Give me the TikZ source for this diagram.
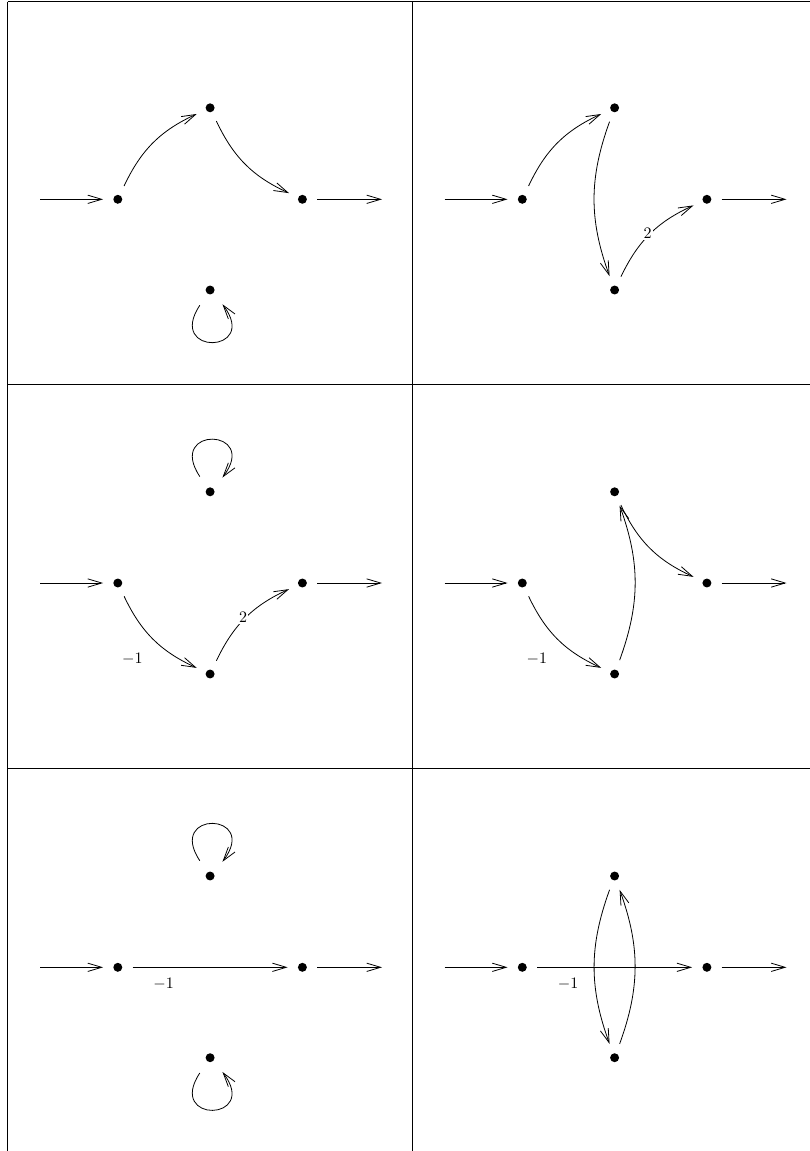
\documentclass[tikz,border=0pt]{standalone}
\usetikzlibrary{arrows.meta}
\begin{document}
\begin{tikzpicture}[x=0.625pt,y=0.625pt,
  dotnode/.style={circle, minimum size=18pt, inner sep=0pt,
    path picture={\fill (path picture bounding box.center) circle (2.8pt);}},
  conn/.style={-{Straight Barb[length=8.7pt,width=5.2pt]}, line width=0.5pt},
  loopconn/.style={conn, shorten <=2.3pt, shorten >=2.6pt},
  gridline/.style={line width=0.5pt},
  onlab/.style={midway, fill=white, inner sep=0.8pt, xshift=-1.5pt},
  difflab/.style={midway, xshift=-13pt, yshift=-12.5pt},
  straightlab/.style={pos=0.2, yshift=-10.4pt}]
\useasboundingbox (0,0) rectangle (809,-1151);

% grid
\draw[gridline] (7.5,-1.5) -- (810,-1.5);
\draw[gridline] (7.5,-384.5) -- (810,-384.5);
\draw[gridline] (7.5,-768.5) -- (810,-768.5);
\draw[gridline] (7.5,-1.5) -- (7.5,-1152);
\draw[gridline] (412,-1.5) -- (412,-1152);

% ---------- row 1, column 1
\begin{scope}[shift={(7.5,0)}]
\node[dotnode] (aL) at (110.3,-199.3) {};
\node[dotnode] (aT) at (202.6,-107.8) {};
\node[dotnode] (aR) at (294.9,-199.3) {};
\node[dotnode] (aB) at (202.6,-290) {};
\coordinate (aI) at (32.5,-199.3);
\coordinate (aO) at (374.5,-199.3);
\draw[conn] (aI) -- (aL);
\draw[conn] (aR) -- (aO);
\draw[conn] (aL) to[bend left=20] (aT);
\draw[conn] (aT) to[bend right=20] (aR);
\draw[loopconn] (aB.-124) .. controls +(-36,-54) and +(40,-53) .. (aB.-48);
\end{scope}

% ---------- row 1, column 2
\begin{scope}[shift={(412,0)}]
\node[dotnode] (bL) at (110.3,-199.3) {};
\node[dotnode] (bT) at (202.6,-107.8) {};
\node[dotnode] (bR) at (294.9,-199.3) {};
\node[dotnode] (bB) at (202.6,-290) {};
\coordinate (bI) at (32.5,-199.3);
\coordinate (bO) at (374.5,-199.3);
\draw[conn] (bI) -- (bL);
\draw[conn] (bR) -- (bO);
\draw[conn] (bL) to[bend left=20] (bT);
\draw[conn] (bT) to[bend right=20] (bB);
\draw[conn] (bB) to[bend left=20] node[onlab] {$2$} (bR);
\end{scope}

% ---------- row 2, column 1
\begin{scope}[shift={(7.5,-384)}]
\node[dotnode] (cL) at (110.3,-199) {};
\node[dotnode] (cT) at (202.6,-107.8) {};
\node[dotnode] (cR) at (294.9,-199) {};
\node[dotnode] (cB) at (202.6,-290) {};
\coordinate (cI) at (32.5,-199);
\coordinate (cO) at (374.5,-199);
\draw[conn] (cI) -- (cL);
\draw[conn] (cR) -- (cO);
\draw[loopconn] (cT.124) .. controls +(-36,54) and +(40,53) .. (cT.48);
\draw[conn] (cL) to[bend right=20] node[difflab] {$-1$} (cB);
\draw[conn] (cB) to[bend left=20] node[onlab] {$2$} (cR);
\end{scope}

% ---------- row 2, column 2
\begin{scope}[shift={(412,-384)}]
\node[dotnode] (dL) at (110.3,-199) {};
\node[dotnode] (dT) at (202.6,-107.8) {};
\node[dotnode] (dR) at (294.9,-199) {};
\node[dotnode] (dB) at (202.6,-290) {};
\coordinate (dI) at (32.5,-199);
\coordinate (dO) at (374.5,-199);
\draw[conn] (dI) -- (dL);
\draw[conn] (dR) -- (dO);
\draw[conn] (dL) to[bend right=20] node[difflab] {$-1$} (dB);
\draw[conn] (dB) to[bend right=20] (dT);
\draw[conn] (dT) to[bend right=20] (dR);
\end{scope}

% ---------- row 3, column 1
\begin{scope}[shift={(7.5,-768)}]
\node[dotnode] (eL) at (110.3,-199.3) {};
\node[dotnode] (eT) at (202.6,-108) {};
\node[dotnode] (eR) at (294.9,-199.3) {};
\node[dotnode] (eB) at (202.6,-289.7) {};
\coordinate (eI) at (32.5,-199.3);
\coordinate (eO) at (374.5,-199.3);
\draw[conn] (eI) -- (eL);
\draw[conn] (eR) -- (eO);
\draw[loopconn] (eT.124) .. controls +(-36,54) and +(40,53) .. (eT.48);
\draw[loopconn] (eB.-124) .. controls +(-36,-54) and +(40,-53) .. (eB.-48);
\draw[conn] (eL) -- node[straightlab] {$-1$} (eR);
\end{scope}

% ---------- row 3, column 2
\begin{scope}[shift={(412,-768)}]
\node[dotnode] (fL) at (110.3,-199.3) {};
\node[dotnode] (fT) at (202.6,-108) {};
\node[dotnode] (fR) at (294.9,-199.3) {};
\node[dotnode] (fB) at (202.6,-289.7) {};
\coordinate (fI) at (32.5,-199.3);
\coordinate (fO) at (374.5,-199.3);
\draw[conn] (fI) -- (fL);
\draw[conn] (fR) -- (fO);
\draw[conn] (fL) -- node[straightlab] {$-1$} (fR);
\draw[conn] (fT) to[bend right=20] (fB);
\draw[conn] (fB) to[bend right=20] (fT);
\end{scope}
\end{tikzpicture}
\end{document}
